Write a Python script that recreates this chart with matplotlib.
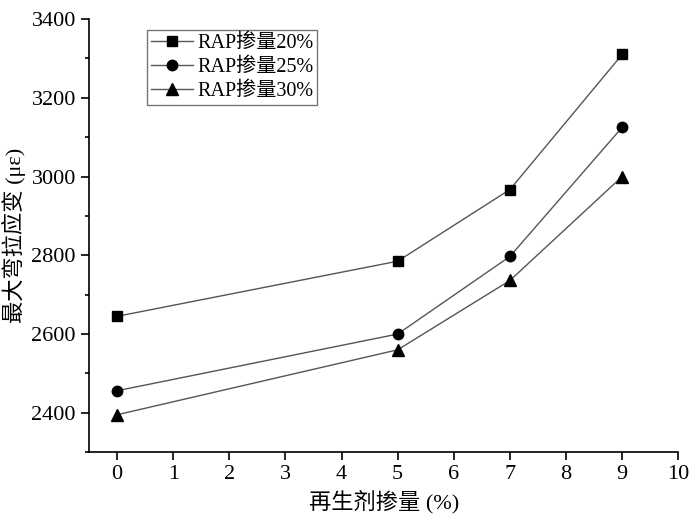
import matplotlib.pyplot as plt
from matplotlib.ticker import MultipleLocator

plt.rcParams['font.family'] = ['Liberation Serif', 'Noto Sans CJK SC']
plt.rcParams['axes.unicode_minus'] = False

# Dados
x = [0, 5, 7, 9]
rap20 = [2645, 2785, 2967, 3310]
rap25 = [2456, 2600, 2797, 3125]
rap30 = [2395, 2560, 2736, 3000]
labels = ['RAP掺量20%', 'RAP掺量25%', 'RAP掺量30%']

fig = plt.figure(figsize=(6.9, 5.15), dpi=100)
ax = fig.add_axes([0.129, 0.122, 0.854, 0.841])

ax.plot(x, rap20, color='#555555', lw=1, marker='s', ms=7, mfc='black', mec='black', label=labels[0])
ax.plot(x, rap25, color='#555555', lw=1, marker='o', ms=7.5, mfc='black', mec='black', label=labels[1])
ax.plot(x, rap30, color='#555555', lw=1, marker='^', ms=8, mfc='black', mec='black', label=labels[2])

ax.set_xlim(-0.5, 10)
ax.set_ylim(2300, 3400)
ax.xaxis.set_major_locator(MultipleLocator(1))
ax.yaxis.set_major_locator(MultipleLocator(200))
ax.yaxis.set_minor_locator(MultipleLocator(100))
ax.tick_params(which='both', direction='out', labelsize=16, width=1.2)
ax.tick_params(which='major', length=6)
ax.tick_params(which='minor', length=3)
ax.spines['top'].set_visible(False)
ax.spines['right'].set_visible(False)
ax.spines['left'].set_linewidth(1.2)
ax.spines['bottom'].set_linewidth(1.2)

ax.set_xlabel('再生剂掺量 (%)', fontsize=16)
ax.set_ylabel('最大弯拉应变 (με)', fontsize=16)

leg = ax.legend(loc='upper left', bbox_to_anchor=(0.098, 0.975), fontsize=14.5, frameon=True,
                fancybox=False, edgecolor='#555555', handlelength=2.1, borderpad=0.2,
                labelspacing=0.25, handletextpad=0.2, borderaxespad=0)
leg.get_frame().set_linewidth(1)

plt.savefig('out.png', dpi=100)
